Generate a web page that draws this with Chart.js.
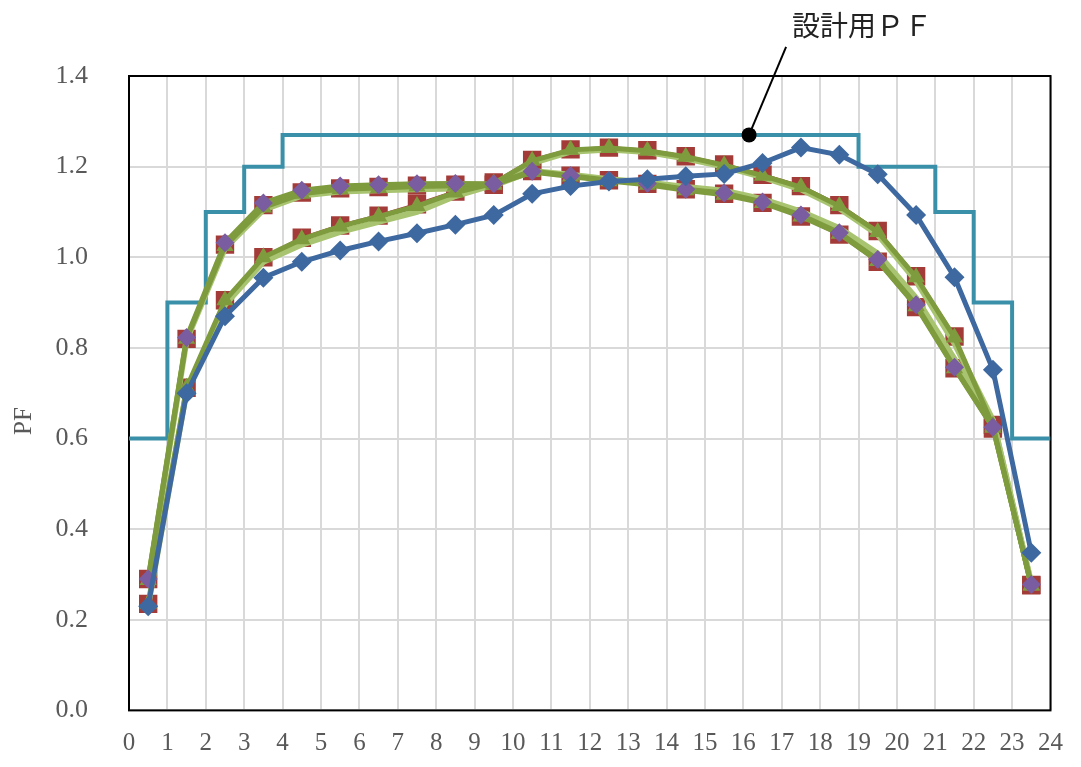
<!DOCTYPE html>
<html>
<head>
<meta charset="utf-8">
<script src="https://cdn.jsdelivr.net/npm/chart.js@4"></script>
<style>
  body { margin: 0; background: #fff; }
  #wrap { width: 1081px; height: 767px; }
</style>
</head>
<body>
<div id="wrap"><canvas id="myChart" width="1081" height="767"></canvas></div>
<script>
// hour of day (mid points)
const hours = [0.5, 1.5, 2.5, 3.5, 4.5, 5.5, 6.5, 7.5, 8.5, 9.5, 10.5, 11.5,
    12.5, 13.5, 14.5, 15.5, 16.5, 17.5, 18.5, 19.5, 20.5, 21.5, 22.5, 23.5];

// design PF step line
const designX = [0, 1, 2, 3, 4, 19, 21, 22, 23, 24];
const designPF = [0.6, 0.9, 1.1, 1.2, 1.27, 1.2, 1.1, 0.9, 0.6, 0.6];

const pfBlue = [0.23, 0.70, 0.87, 0.955, 0.99, 1.015, 1.035, 1.053, 1.072, 1.093, 1.14, 1.157,
    1.167, 1.172, 1.179, 1.184, 1.208, 1.242, 1.226, 1.183, 1.093, 0.956, 0.752, 0.348];

// upper group (purple diamonds)
const pfPurple = [0.29, 0.823, 1.032, 1.12, 1.148, 1.157, 1.16, 1.162, 1.163, 1.162, 1.19, 1.18,
    1.17, 1.163, 1.15, 1.142, 1.122, 1.093, 1.054, 0.995, 0.895, 0.757, 0.625, 0.278];
const pfGreenA = [0.288, 0.82, 1.025, 1.11, 1.14, 1.15, 1.153, 1.156, 1.158, 1.16, 1.188, 1.178,
    1.168, 1.16, 1.148, 1.138, 1.12, 1.09, 1.052, 0.992, 0.892, 0.755, 0.624, 0.277];
const pfLightA = [0.285, 0.818, 1.02, 1.105, 1.136, 1.145, 1.148, 1.15, 1.152, 1.158, 1.19, 1.182,
    1.172, 1.165, 1.155, 1.147, 1.128, 1.101, 1.064, 1.008, 0.91, 0.775, 0.64, 0.28];
const pfRedA = [0.29, 0.82, 1.028, 1.115, 1.143, 1.152, 1.155, 1.158, 1.16, 1.16, 1.19, 1.18,
    1.17, 1.162, 1.15, 1.14, 1.12, 1.09, 1.05, 0.99, 0.89, 0.755, 0.622, 0.276];

// lower group (red squares / green triangles)
const pfGreenB = [0.235, 0.712, 0.905, 1.0, 1.04, 1.068, 1.09, 1.113, 1.143, 1.163, 1.213, 1.237,
    1.241, 1.235, 1.222, 1.203, 1.18, 1.155, 1.113, 1.056, 0.956, 0.823, 0.628, 0.275];
const pfLightB = [0.232, 0.705, 0.895, 0.99, 1.028, 1.056, 1.078, 1.1, 1.135, 1.16, 1.208, 1.233,
    1.238, 1.232, 1.218, 1.2, 1.177, 1.15, 1.108, 1.05, 0.948, 0.81, 0.64, 0.278];
const pfRedB = [0.235, 0.712, 0.905, 1.0, 1.043, 1.07, 1.092, 1.117, 1.145, 1.165, 1.215, 1.238,
    1.242, 1.236, 1.223, 1.205, 1.182, 1.157, 1.115, 1.058, 0.958, 0.825, 0.63, 0.277];

const noteText = '設計用ＰＦ';
const noteAt = [16.15, 1.27];
const yTitle = 'PF';

const teal = '#3A90A8';
const blue = '#3D68A0';
const red = '#A33C38';
const green = '#7E9B3E';
const lightGreen = '#A8C470';
const purple = '#7A5CA0';

const pts = (ys) => ys.map((y, i) => ({ x: hours[i], y: y }));

function series(ys, opts) {
    return Object.assign({
        data: pts(ys),
        borderWidth: 5,
        pointBorderWidth: 0,
        tension: 0
    }, opts);
}

const framePlugin = {
    id: 'frame',
    beforeDatasetsDraw(chart) {
        const { ctx, chartArea: a } = chart;
        ctx.save();
        ctx.strokeStyle = '#000';
        ctx.lineWidth = 2;
        ctx.strokeRect(a.left, a.top, a.right - a.left, a.bottom - a.top);
        // y axis title, sits a bit below the middle like the original
        ctx.translate(24, 421);
        ctx.rotate(-Math.PI / 2);
        ctx.font = '25px "Liberation Serif", serif';
        ctx.fillStyle = '#595959';
        ctx.textAlign = 'center';
        ctx.textBaseline = 'middle';
        ctx.fillText(yTitle, 0, 0);
        ctx.restore();
    },
    afterDatasetsDraw(chart) {
        const { ctx, scales: { x, y } } = chart;
        const px = x.getPixelForValue(noteAt[0]);
        const py = y.getPixelForValue(noteAt[1]);
        ctx.save();
        ctx.strokeStyle = '#000';
        ctx.lineWidth = 2;
        ctx.beginPath();
        ctx.moveTo(px, py);
        ctx.lineTo(px + 37, py - 88);
        ctx.stroke();
        ctx.beginPath();
        ctx.arc(px, py, 7.5, 0, Math.PI * 2);
        ctx.fillStyle = '#000';
        ctx.fill();
        ctx.font = '28px "Noto Sans CJK JP"';
        ctx.textBaseline = 'middle';
        ctx.fillStyle = '#222';
        ctx.fillText(noteText, px + 43, 25);
        ctx.restore();
    }
};

const config = {
    type: 'line',
    data: {
        datasets: [
            series(pfBlue, { borderColor: blue, backgroundColor: blue, pointStyle: 'rectRot', pointRadius: 10, order: 0 }),
            series(pfPurple, { borderColor: green, backgroundColor: purple, pointStyle: 'rectRot', pointRadius: 9.5, order: 1 }),
            series(pfGreenA, { borderColor: green, backgroundColor: green, pointStyle: 'triangle', pointRadius: 10, order: 2 }),
            series(pfGreenB, { borderColor: green, backgroundColor: green, pointStyle: 'triangle', pointRadius: 10, order: 3 }),
            series(pfLightA, { borderColor: lightGreen, backgroundColor: lightGreen, pointRadius: 0, borderWidth: 6, order: 4 }),
            series(pfLightB, { borderColor: lightGreen, backgroundColor: lightGreen, pointRadius: 0, borderWidth: 6, order: 5 }),
            series(pfRedA, { borderColor: red, backgroundColor: red, pointStyle: 'rect', pointRadius: 13, borderWidth: 3, order: 6 }),
            series(pfRedB, { borderColor: red, backgroundColor: red, pointStyle: 'rect', pointRadius: 13, borderWidth: 3, order: 7 }),
            {
                data: designX.map((x, i) => ({ x: x, y: designPF[i] })),
                borderColor: teal,
                borderWidth: 4,
                pointRadius: 0,
                stepped: 'before',
                order: 10
            }
        ]
    },
    options: {
        responsive: false,
        animation: false,
        layout: { padding: { left: 0, right: 23, top: 76, bottom: 0 } },
        plugins: { legend: { display: false }, tooltip: { enabled: false } },
        scales: {
            x: {
                type: 'linear',
                min: 0,
                max: 24,
                afterFit: (s) => { s.height = 54; },
                grid: { color: '#D9D9D9', lineWidth: 2, drawTicks: false },
                border: { display: false },
                ticks: { stepSize: 1, autoSkip: false, maxRotation: 0, padding: 18, color: '#595959',
                    font: { family: '"Liberation Serif", serif', size: 25 } }
            },
            y: {
                min: 0,
                max: 1.4,
                afterFit: (s) => { s.width = 129; },
                grid: { color: '#D9D9D9', lineWidth: 2, drawTicks: false },
                border: { display: false },
                ticks: { stepSize: 0.2, padding: 41, color: '#595959',
                    font: { family: '"Liberation Serif", serif', size: 26 },
                    callback: (v) => v.toFixed(1) }
            }
        }
    },
    plugins: [framePlugin]
};

const myChart = new Chart(document.getElementById('myChart'), config);
</script>
</body>
</html>
